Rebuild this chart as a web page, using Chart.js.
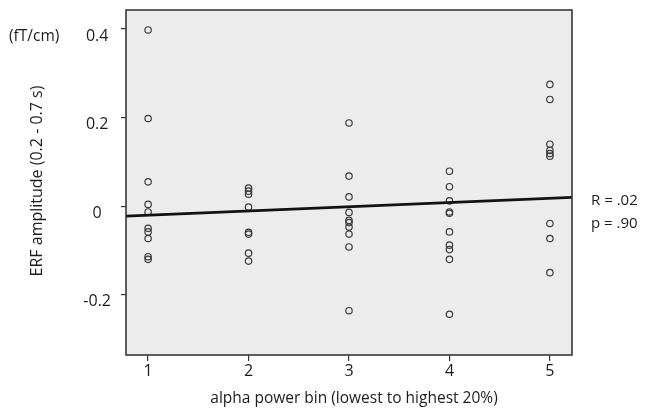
<!DOCTYPE html>
<html>
<head>
<meta charset="utf-8">
<script src="https://cdn.jsdelivr.net/npm/chart.js@4/dist/chart.umd.min.js"></script>
<style>
  html, body { margin: 0; padding: 0; background: #ffffff; }
  #wrap { width: 651px; height: 409px; position: relative; }
</style>
</head>
<body>
<div id="wrap"><canvas id="c" width="651" height="409"></canvas></div>
<script>
// ---- data ----
const bins = [1, 2, 3, 4, 5];
const bin1 = [0.398, 0.198, 0.055, 0.004, -0.013, -0.050, -0.058, -0.073, -0.114, -0.120];
const bin2 = [0.041, 0.034, 0.027, -0.002, -0.059, -0.063, -0.106, -0.124];
const bin3 = [0.188, 0.068, 0.021, -0.014, -0.032, -0.037, -0.047, -0.063, -0.092, -0.236];
const bin4 = [0.079, 0.044, 0.012, -0.013, -0.016, -0.058, -0.088, -0.098, -0.120, -0.244];
const bin5 = [0.275, 0.241, 0.140, 0.126, 0.119, 0.113, -0.039, -0.073, -0.150];
const fitX = [0.78, 5.22];
const fitY = [-0.0225, 0.020];
const xTicks = [1, 2, 3, 4, 5];
const yTicks = [-0.2, 0, 0.2, 0.4];
const xTitle = 'alpha power bin (lowest to highest 20%)';
const yTitle = 'ERF amplitude (0.2 - 0.7 s)';
const unitLabel = '(fT/cm)';
const statR = 'R = .02';
const statP = 'p = .90';

const binValues = [bin1, bin2, bin3, bin4, bin5];
const scatterPts = [];
bins.forEach((b, i) => binValues[i].forEach(v => scatterPts.push({x: b, y: v})));
const linePts = fitX.map((x, i) => ({x: x, y: fitY[i]}));

const FONT = '"Open Sans", "Noto Sans", sans-serif';
const TXT = '#1c1c1c';

const decor = {
  id: 'decor',
  beforeDraw(chart) {
    const {ctx, chartArea: a} = chart;
    ctx.save();
    ctx.fillStyle = '#ececec';
    ctx.fillRect(a.left, a.top, a.right - a.left, a.bottom - a.top);
    ctx.restore();
  },
  afterDraw(chart) {
    const {ctx, chartArea: a} = chart;
    ctx.save();
    ctx.strokeStyle = '#383838';
    ctx.lineWidth = 1.6;
    ctx.strokeRect(a.left, a.top, a.right - a.left, a.bottom - a.top);
    ctx.fillStyle = TXT;
    ctx.textBaseline = 'middle';
    ctx.textAlign = 'center';
    ctx.font = '15.5px ' + FONT;
    ctx.fillText(xTitle, 354, 399);
    ctx.textAlign = 'left';
    ctx.fillText(unitLabel, 9, 37);
    ctx.font = '15px ' + FONT;
    ctx.fillText(statR, 591, 201);
    ctx.fillText(statP, 591, 224);
    ctx.font = '16px ' + FONT;
    ctx.translate(37, 181);
    ctx.rotate(-Math.PI / 2);
    ctx.textAlign = 'center';
    ctx.fillText(yTitle, 0, 0);
    ctx.restore();
  }
};

new Chart(document.getElementById('c'), {
  type: 'scatter',
  data: {
    datasets: [
      {
        data: scatterPts,
        pointRadius: 3.2,
        pointHoverRadius: 3.2,
        pointBorderWidth: 1.2,
        borderColor: '#3a3a3a',
        backgroundColor: 'rgba(0,0,0,0)',
        order: 2
      },
      {
        type: 'line',
        data: linePts,
        showLine: true,
        borderColor: '#111111',
        borderWidth: 2.6,
        pointRadius: 0,
        fill: false,
        order: 1
      }
    ]
  },
  options: {
    responsive: false,
    animation: false,
    events: [],
    layout: { padding: { left: 0, top: 10, right: 79, bottom: 0 } },
    plugins: { legend: { display: false }, tooltip: { enabled: false } },
    scales: {
      x: {
        type: 'linear',
        min: 0.78,
        max: 5.22,
        afterBuildTicks(axis) { axis.ticks = xTicks.map(v => ({value: v})); },
        afterFit(axis) { axis.height = 54; axis.paddingLeft = 0; axis.paddingRight = 0; },
        grid: { display: true, drawOnChartArea: false, drawTicks: true, tickLength: 6, color: '#333', lineWidth: 1.2 },
        border: { display: false },
        ticks: { color: TXT, font: { family: FONT, size: 16 }, padding: 1, callback: v => String(v) }
      },
      y: {
        type: 'linear',
        min: -0.336,
        max: 0.443,
        afterBuildTicks(axis) { axis.ticks = yTicks.map(v => ({value: v})); },
        afterFit(axis) { axis.width = 126; axis.paddingTop = 0; axis.paddingBottom = 0; },
        grid: { display: true, drawOnChartArea: false, drawTicks: true, tickLength: 5, color: '#333', lineWidth: 1.2 },
        border: { display: false },
        ticks: { color: TXT, font: { family: FONT, size: 16 }, padding: 10, crossAlign: 'center', labelOffset: 7,
                 callback: v => (v === 0 ? '0' : v.toFixed(1)) }
      }
    }
  },
  plugins: [decor]
});
</script>
</body>
</html>
